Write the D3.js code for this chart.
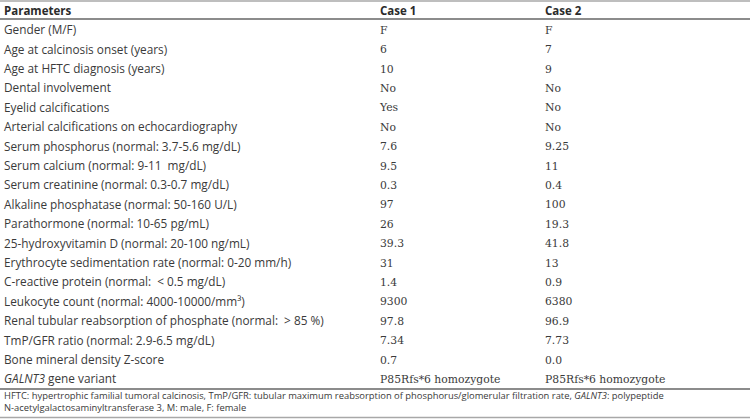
<!DOCTYPE html>
<html>
<head>
<meta charset="utf-8">
<script src="https://cdn.jsdelivr.net/npm/d3@7"></script>
<style>
  body { margin: 0; background: #fff; }
  svg { display: block; }
  text { white-space: pre; }
</style>
</head>
<body>
<svg id="table"></svg>
<script>
// table content
var columns = ["Parameters", "Case 1", "Case 2"];
var parameters = [
  "Gender (M/F)",
  "Age at calcinosis onset (years)",
  "Age at HFTC diagnosis (years)",
  "Dental involvement",
  "Eyelid calcifications",
  "Arterial calcifications on echocardiography",
  "Serum phosphorus (normal: 3.7-5.6 mg/dL)",
  "Serum calcium (normal: 9-11  mg/dL)",
  "Serum creatinine (normal: 0.3-0.7 mg/dL)",
  "Alkaline phosphatase (normal: 50-160 U/L)",
  "Parathormone (normal: 10-65 pg/mL)",
  "25-hydroxyvitamin D (normal: 20-100 ng/mL)",
  "Erythrocyte sedimentation rate (normal: 0-20 mm/h)",
  "C-reactive protein (normal:  < 0.5 mg/dL)",
  "Leukocyte count (normal: 4000-10000/mm\u00b3)",
  "Renal tubular reabsorption of phosphate (normal:  > 85 %)",
  "TmP/GFR ratio (normal: 2.9-6.5 mg/dL)",
  "Bone mineral density Z-score",
  "GALNT3 gene variant"
];
var case1 = ["F", "6", "10", "No", "Yes", "No", "7.6", "9.5", "0.3", "97", "26", "39.3", "31", "1.4", "9300", "97.8", "7.34", "0.7", "P85Rfs*6 homozygote"];
var case2 = ["F", "7", "9", "No", "No", "No", "9.25", "11", "0.4", "100", "19.3", "41.8", "13", "0.9", "6380", "96.9", "7.73", "0.0", "P85Rfs*6 homozygote"];
var footnote = [
  [["HFTC: hypertrophic familial tumoral calcinosis, TmP/GFR: tubular maximum reabsorption of phosphorus/glomerular filtration rate, ", false], ["GALNT3", true], [": polypeptide", false]],
  [["N-acetylgalactosaminyltransferase 3, M: male, F: female", false]]
];

var width = 750, height = 419;
var sans = "'Open Sans', Lato, sans-serif";
var serif = "'DejaVu Serif', serif";

var svg = d3.select("#table")
  .attr("width", width)
  .attr("height", height);

var x = d3.scaleOrdinal()
  .domain(columns)
  .range([4, 380, 545]);

var y = d3.scaleBand()
  .domain(d3.range(parameters.length))
  .range([20.3, 388.9])
  .paddingInner(0);

// rules
svg.append("line")
  .attr("x1", 0).attr("x2", width)
  .attr("y1", 1).attr("y2", 1)
  .attr("stroke", "#a8a8a8").attr("stroke-width", 1.5);

svg.append("line")
  .attr("x1", 0).attr("x2", width)
  .attr("y1", y.range()[0] - 1.3).attr("y2", y.range()[0] - 1.3)
  .attr("stroke", "#666").attr("stroke-width", 1.5);

svg.append("line")
  .attr("x1", 0).attr("x2", width)
  .attr("y1", y.range()[1]).attr("y2", y.range()[1])
  .attr("stroke", "#666").attr("stroke-width", 1.5);

svg.append("line")
  .attr("x1", 0).attr("x2", width)
  .attr("y1", height - 1.5).attr("y2", height - 1.5)
  .attr("stroke", "#a8a8a8").attr("stroke-width", 1.5);

// header
svg.selectAll(".head")
  .data(columns)
  .enter()
  .append("text")
  .attr("class", "head")
  .attr("x", function (d) { return x(d); })
  .attr("y", 10.5)
  .attr("dy", "0.35em")
  .style("font-family", sans)
  .style("font-size", "11.5px")
  .style("font-weight", "bold")
  .style("fill", "#2b2b2b")
  .text(function (d) { return d; });

// rows
var rows = svg.selectAll(".row")
  .data(parameters)
  .enter()
  .append("g")
  .attr("class", "row")
  .attr("transform", function (d, i) { return "translate(0," + (y(i) + y.bandwidth() / 2) + ")"; });

rows.append("text")
  .attr("x", x(columns[0]))
  .attr("dy", "0.35em")
  .style("font-family", sans)
  .style("font-size", "11.8px")
  .style("fill", "#3a3a3a")
  .each(function (d) {
    var t = d3.select(this);
    if (d.indexOf("GALNT3") === 0) {
      t.append("tspan").style("font-style", "italic").text("GALNT3");
      t.append("tspan").text(d.slice(6));
    } else {
      t.text(d);
    }
  });

rows.append("text")
  .attr("x", x(columns[1]))
  .attr("dy", "0.35em")
  .style("font-family", serif)
  .style("font-size", "10.8px")
  .style("fill", "#3a3a3a")
  .text(function (d, i) { return case1[i]; });

rows.append("text")
  .attr("x", x(columns[2]))
  .attr("dy", "0.35em")
  .style("font-family", serif)
  .style("font-size", "10.8px")
  .style("fill", "#3a3a3a")
  .text(function (d, i) { return case2[i]; });

// footnote
svg.selectAll(".foot")
  .data(footnote)
  .enter()
  .append("text")
  .attr("class", "foot")
  .attr("x", 4)
  .attr("y", function (d, i) { return y.range()[1] + 7 + i * 12; })
  .attr("dy", "0.35em")
  .style("font-family", sans)
  .style("font-size", "9.4px")
  .style("fill", "#3a3a3a")
  .each(function (parts) {
    var t = d3.select(this);
    parts.forEach(function (p) {
      t.append("tspan").style("font-style", p[1] ? "italic" : "normal").text(p[0]);
    });
  });
</script>
</body>
</html>
